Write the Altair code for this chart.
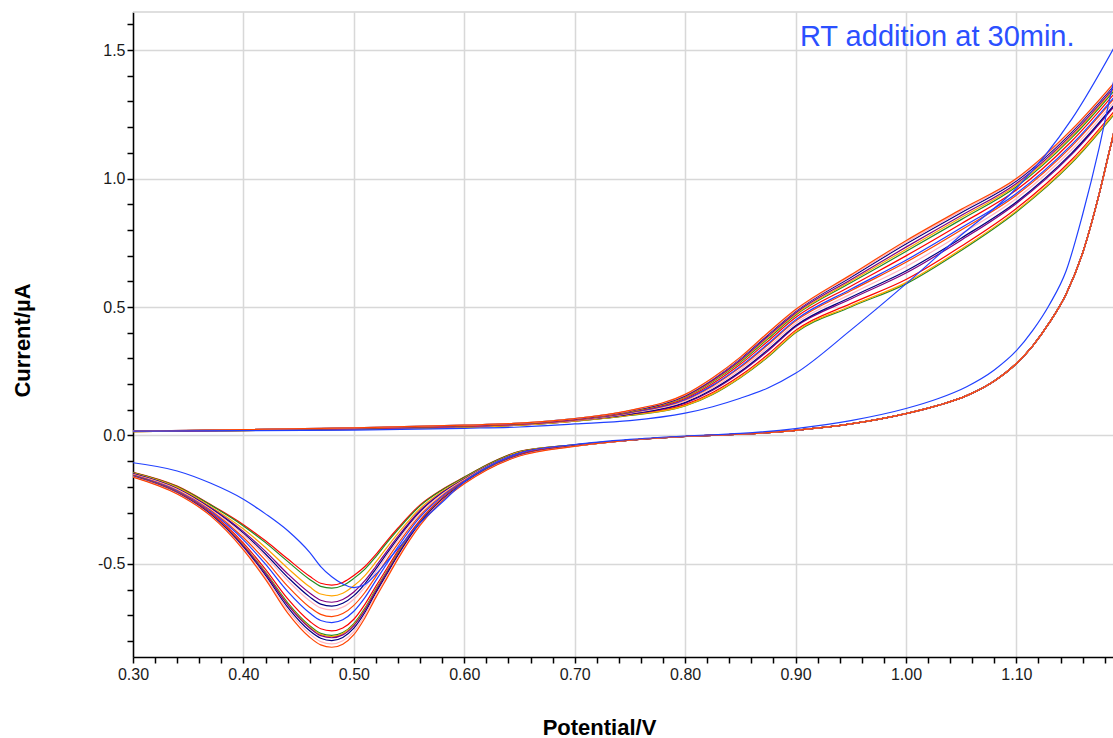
import altair as alt
import pandas as pd

# ---------------- data ----------------
# forward (upper) branch potentials
X_UP = [0.30, 0.40, 0.50, 0.60, 0.65, 0.70, 0.75, 0.80, 0.825, 0.85, 0.875, 0.90,
        0.95, 1.00, 1.05, 1.10, 1.15, 1.20]
# reverse branch, high-potential part (shared shape)
X_TAIL = [1.185, 1.175, 1.16, 1.145, 1.13, 1.115, 1.10, 1.08, 1.055, 1.03, 1.00,
          0.95, 0.90, 0.85, 0.80, 0.75]
# reverse branch, reduction-peak part
X_HEAD = [0.70, 0.65, 0.62, 0.60, 0.58, 0.56, 0.54, 0.53, 0.52, 0.51, 0.50, 0.49,
          0.48, 0.47, 0.46, 0.44, 0.42, 0.40, 0.37, 0.34, 0.30]

TAIL_MAIN = [1.12, 0.94, 0.71, 0.55, 0.44, 0.35, 0.28, 0.212, 0.155, 0.118, 0.085,
             0.045, 0.02, 0.005, -0.004, -0.018]
TAIL_FIRST = [1.32, 1.12, 0.86, 0.64, 0.51, 0.41, 0.33, 0.255, 0.19, 0.145, 0.105,
              0.058, 0.027, 0.008, -0.002, -0.015]

CURVE_NAMES = ["c01", "c02", "c03", "c04", "c05", "c06", "c07", "c08", "c09", "c10",
               "c11", "c12", "c13", "c14", "c15", "c16"]
CURVE_COLORS = ["#ff0000", "#228b22", "#ffa500", "#800080", "#000080", "#ffb6c1",
                "#ff4500", "#1f3dff", "#ff0000", "#228b22", "#ffa500", "#800080",
                "#000080", "#ffb6c1", "#ff4500", "#2040ff"]

UPPER = {
    "c01": [0.015, 0.019, 0.024, 0.032, 0.040, 0.056, 0.080, 0.120, 0.167, 0.233, 0.315, 0.409, 0.513, 0.607, 0.736, 0.883, 1.073, 1.322],
    "c02": [0.015, 0.019, 0.024, 0.032, 0.040, 0.056, 0.078, 0.115, 0.160, 0.225, 0.305, 0.400, 0.500, 0.590, 0.720, 0.870, 1.060, 1.310],
    "c03": [0.015, 0.019, 0.024, 0.032, 0.040, 0.056, 0.079, 0.116, 0.162, 0.227, 0.308, 0.403, 0.504, 0.595, 0.725, 0.874, 1.064, 1.314],
    "c04": [0.016, 0.020, 0.026, 0.035, 0.043, 0.059, 0.083, 0.126, 0.176, 0.245, 0.329, 0.423, 0.531, 0.632, 0.760, 0.903, 1.093, 1.340],
    "c05": [0.016, 0.020, 0.026, 0.035, 0.043, 0.059, 0.084, 0.129, 0.180, 0.249, 0.334, 0.427, 0.538, 0.640, 0.768, 0.909, 1.099, 1.346],
    "c06": [0.016, 0.020, 0.026, 0.035, 0.043, 0.059, 0.086, 0.133, 0.186, 0.257, 0.343, 0.436, 0.550, 0.657, 0.784, 0.922, 1.112, 1.358],
    "c07": [0.016, 0.021, 0.027, 0.036, 0.044, 0.061, 0.088, 0.138, 0.193, 0.265, 0.353, 0.445, 0.563, 0.674, 0.800, 0.935, 1.125, 1.370],
    "c08": [0.016, 0.021, 0.027, 0.036, 0.044, 0.061, 0.089, 0.140, 0.196, 0.269, 0.357, 0.450, 0.569, 0.682, 0.808, 0.942, 1.132, 1.376],
    "c09": [0.016, 0.021, 0.027, 0.036, 0.044, 0.061, 0.091, 0.144, 0.202, 0.277, 0.367, 0.459, 0.581, 0.699, 0.824, 0.955, 1.145, 1.388],
    "c10": [0.017, 0.022, 0.029, 0.038, 0.046, 0.063, 0.093, 0.149, 0.209, 0.285, 0.376, 0.468, 0.594, 0.716, 0.840, 0.968, 1.158, 1.400],
    "c11": [0.017, 0.022, 0.029, 0.038, 0.046, 0.063, 0.094, 0.151, 0.212, 0.289, 0.381, 0.472, 0.600, 0.724, 0.848, 0.974, 1.164, 1.406],
    "c12": [0.017, 0.022, 0.029, 0.038, 0.046, 0.063, 0.095, 0.153, 0.215, 0.293, 0.386, 0.477, 0.606, 0.733, 0.856, 0.981, 1.171, 1.412],
    "c13": [0.017, 0.023, 0.030, 0.040, 0.048, 0.066, 0.096, 0.156, 0.220, 0.299, 0.392, 0.483, 0.615, 0.745, 0.867, 0.990, 1.180, 1.420],
    "c14": [0.017, 0.023, 0.030, 0.040, 0.048, 0.066, 0.097, 0.158, 0.222, 0.302, 0.396, 0.486, 0.620, 0.751, 0.874, 0.995, 1.185, 1.425],
    "c15": [0.017, 0.023, 0.030, 0.040, 0.048, 0.066, 0.098, 0.160, 0.225, 0.305, 0.400, 0.490, 0.625, 0.758, 0.880, 1.000, 1.190, 1.430],
    "c16": [0.017, 0.019, 0.021, 0.028, 0.033, 0.045, 0.058, 0.087, 0.112, 0.145, 0.185, 0.242, 0.410, 0.590, 0.780, 0.962, 1.230, 1.600],
}

HEAD = {
    "c01": [-0.036, -0.062, -0.115, -0.162, -0.210, -0.270, -0.360, -0.410, -0.463, -0.510, -0.545, -0.572, -0.582, -0.575, -0.548, -0.480, -0.410, -0.347, -0.268, -0.197, -0.143],
    "c02": [-0.036, -0.063, -0.116, -0.163, -0.212, -0.274, -0.366, -0.417, -0.471, -0.520, -0.556, -0.584, -0.594, -0.587, -0.560, -0.490, -0.417, -0.352, -0.270, -0.199, -0.144],
    "c03": [-0.037, -0.065, -0.119, -0.167, -0.218, -0.284, -0.381, -0.435, -0.492, -0.545, -0.585, -0.614, -0.624, -0.617, -0.589, -0.516, -0.436, -0.364, -0.276, -0.202, -0.146],
    "c04": [-0.038, -0.067, -0.121, -0.169, -0.222, -0.292, -0.393, -0.450, -0.509, -0.565, -0.609, -0.638, -0.649, -0.641, -0.613, -0.538, -0.451, -0.374, -0.280, -0.206, -0.148],
    "c05": [-0.038, -0.068, -0.122, -0.171, -0.225, -0.297, -0.400, -0.459, -0.519, -0.577, -0.623, -0.653, -0.664, -0.656, -0.628, -0.551, -0.461, -0.380, -0.283, -0.207, -0.149],
    "c06": [-0.038, -0.069, -0.123, -0.172, -0.228, -0.302, -0.408, -0.468, -0.530, -0.590, -0.637, -0.668, -0.679, -0.671, -0.643, -0.564, -0.470, -0.386, -0.286, -0.209, -0.151],
    "c07": [-0.039, -0.071, -0.125, -0.175, -0.233, -0.311, -0.421, -0.483, -0.548, -0.611, -0.661, -0.693, -0.705, -0.696, -0.668, -0.586, -0.486, -0.397, -0.290, -0.213, -0.153],
    "c08": [-0.040, -0.073, -0.127, -0.178, -0.237, -0.318, -0.433, -0.498, -0.564, -0.631, -0.684, -0.717, -0.728, -0.720, -0.691, -0.607, -0.501, -0.406, -0.295, -0.216, -0.155],
    "c09": [-0.040, -0.075, -0.130, -0.181, -0.243, -0.329, -0.448, -0.517, -0.586, -0.657, -0.715, -0.749, -0.760, -0.752, -0.723, -0.635, -0.521, -0.419, -0.300, -0.220, -0.157],
    "c10": [-0.041, -0.077, -0.131, -0.183, -0.247, -0.335, -0.457, -0.528, -0.598, -0.672, -0.732, -0.767, -0.778, -0.770, -0.740, -0.650, -0.532, -0.427, -0.304, -0.222, -0.158],
    "c11": [-0.041, -0.077, -0.132, -0.184, -0.247, -0.337, -0.460, -0.531, -0.602, -0.676, -0.736, -0.771, -0.783, -0.774, -0.745, -0.655, -0.535, -0.428, -0.305, -0.223, -0.159],
    "c12": [-0.041, -0.077, -0.132, -0.184, -0.248, -0.338, -0.462, -0.533, -0.605, -0.680, -0.740, -0.776, -0.787, -0.779, -0.749, -0.658, -0.537, -0.430, -0.305, -0.223, -0.159],
    "c13": [-0.041, -0.078, -0.133, -0.185, -0.250, -0.341, -0.467, -0.540, -0.612, -0.689, -0.750, -0.786, -0.798, -0.789, -0.760, -0.668, -0.544, -0.435, -0.307, -0.225, -0.160],
    "c14": [-0.042, -0.079, -0.134, -0.187, -0.253, -0.346, -0.474, -0.547, -0.621, -0.699, -0.763, -0.799, -0.811, -0.802, -0.772, -0.679, -0.552, -0.440, -0.310, -0.226, -0.161],
    "c15": [-0.042, -0.080, -0.135, -0.188, -0.255, -0.350, -0.480, -0.555, -0.630, -0.710, -0.775, -0.812, -0.824, -0.815, -0.785, -0.690, -0.560, -0.445, -0.312, -0.228, -0.162],
    "c16": [-0.035, -0.068, -0.125, -0.180, -0.260, -0.340, -0.440, -0.490, -0.540, -0.580, -0.592, -0.578, -0.550, -0.510, -0.455, -0.370, -0.305, -0.248, -0.185, -0.138, -0.106],
}

X_TICKS = [0.30, 0.32, 0.34, 0.36, 0.38, 0.40, 0.42, 0.44, 0.46, 0.48, 0.50, 0.52, 0.54,
           0.56, 0.58, 0.60, 0.62, 0.64, 0.66, 0.68, 0.70, 0.72, 0.74, 0.76, 0.78, 0.80,
           0.82, 0.84, 0.86, 0.88, 0.90, 0.92, 0.94, 0.96, 0.98, 1.00, 1.02, 1.04, 1.06,
           1.08, 1.10, 1.12, 1.14, 1.16, 1.18]
X_LABELED = [0.30, 0.40, 0.50, 0.60, 0.70, 0.80, 0.90, 1.00, 1.10]
Y_TICKS = [-0.8, -0.7, -0.6, -0.5, -0.4, -0.3, -0.2, -0.1, 0.0, 0.1, 0.2, 0.3, 0.4, 0.5,
           0.6, 0.7, 0.8, 0.9, 1.0, 1.1, 1.2, 1.3, 1.4, 1.5, 1.6]
Y_LABELED = [-0.5, 0.0, 0.5, 1.0, 1.5]

NOTE_TEXT = ["RT addition at 30min."]
NOTE_X = [0.904]
NOTE_Y = [1.549]

# ---------------- build long table ----------------
rows = []
for name in CURVE_NAMES:
    up = UPPER[name]
    tail = TAIL_FIRST if name == "c16" else TAIL_MAIN
    for i, (xv, yv) in enumerate(zip(X_UP, up)):
        rows.append({"curve": name, "branch": name + "u", "seq": i, "x": xv, "y": yv})
    low_x = [X_UP[-1]] + X_TAIL + X_HEAD
    low_y = [up[-1]] + tail + HEAD[name]
    for i, (xv, yv) in enumerate(zip(low_x, low_y)):
        rows.append({"curve": name, "branch": name + "l", "seq": i, "x": xv, "y": yv})
df = pd.DataFrame(rows)

x_lab_test = "indexof([" + ",".join(str(v) for v in X_LABELED) + "], datum.value) >= 0"
y_lab_test = "indexof([" + ",".join(str(v) for v in Y_LABELED) + "], datum.value) >= 0"

FONT = "Liberation Sans"

x_enc = alt.X(
    "x:Q",
    scale=alt.Scale(domain=[0.30, 1.1875], nice=False, zero=False),
    axis=alt.Axis(
        values=X_TICKS,
        tickCount=200,
        title="Potential/V",
        labelExpr=f"({x_lab_test}) ? format(datum.value, '.2f') : ''",
        labelOverlap=False,
        labelFlush=False,
        gridOpacity={"condition": {"test": x_lab_test, "value": 1}, "value": 0},
        titleX=466,
        titleY=70,
        titleAlign="center",
        titleBaseline="middle",
        labelPadding=3,
    ),
)
y_enc = alt.Y(
    "y:Q",
    scale=alt.Scale(domain=[-0.862, 1.648], nice=False, zero=False),
    axis=alt.Axis(
        values=Y_TICKS,
        tickCount=200,
        title="Current/µA",
        labelExpr=f"({y_lab_test}) ? replace(format(datum.value, '.1f'), '\u2212', '-') : ''",
        labelOverlap=False,
        labelFlush=False,
        gridOpacity={"condition": {"test": y_lab_test, "value": 1}, "value": 0},
        titleAngle=270,
        titleX=-111,
        titleY=328,
        titleAlign="center",
        titleBaseline="middle",
        labelPadding=2,
    ),
)

lines = alt.Chart(df).mark_line(strokeWidth=1.2, clip=True, interpolate="monotone").encode(
    x=x_enc,
    y=y_enc,
    color=alt.Color("curve:N", scale=alt.Scale(domain=CURVE_NAMES, range=CURVE_COLORS), legend=None),
    detail="branch:N",
    order="seq:Q",
)

top_border = alt.Chart(pd.DataFrame({"a": [0]})).mark_rule(color="#d4d4d4", strokeWidth=1.5).encode(
    x=alt.value(0), x2=alt.value(980), y=alt.value(0)
)

note = alt.Chart(pd.DataFrame({"x": NOTE_X, "y": NOTE_Y, "t": NOTE_TEXT})).mark_text(
    align="left", baseline="middle", fontSize=29, color="#2b50ff", font=FONT
).encode(x="x:Q", y="y:Q", text="t:N")

chart = alt.layer(top_border, lines, note).properties(
    width=980,
    height=645,
    padding={"left": 133, "top": 12, "right": 0, "bottom": 81},
    autosize=alt.AutoSizeParams(type="none"),
).configure_view(stroke=None).configure_axis(
    domainColor="#000000",
    domainWidth=1.5,
    tickColor="#000000",
    tickWidth=1.5,
    tickSize=6,
    labelColor="#1a1a1a",
    labelFont=FONT,
    labelFontSize=16,
    gridColor="#d8d8d8",
    gridWidth=1.5,
    titleFont=FONT,
    titleFontSize=22,
    titleFontWeight="bold",
    titleColor="#000000",
)

chart.save("out.html", embed_options={"renderer": "svg", "actions": False})
